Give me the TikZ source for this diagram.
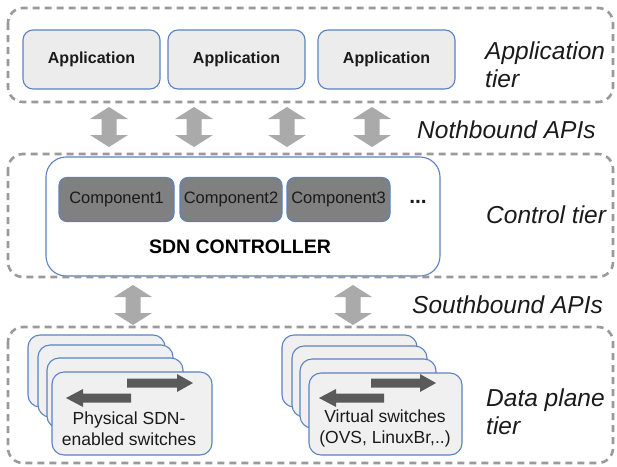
\documentclass[tikz,border=0pt]{standalone}
\usepackage{fontspec}
\setmainfont{Liberation Sans}
\definecolor{tiergray}{HTML}{9A9A9A}
\definecolor{boxblue}{HTML}{5B82C2}
\definecolor{appfill}{HTML}{ECECEC}
\definecolor{compfill}{HTML}{808080}
\definecolor{apigray}{HTML}{AAAAAA}
\definecolor{swarrow}{HTML}{5A5A5A}
\definecolor{swfill}{HTML}{F0F0F0}
\definecolor{txt}{HTML}{1A1A1A}
\tikzset{
  tierbox/.style={draw=tiergray, line width=2.6pt, dash pattern=on 7pt off 5pt, rounded corners=15pt},
  appbox/.style={draw=boxblue, line width=1.1pt, fill=appfill, rounded corners=10pt, inner sep=0pt,
     font=\fontsize{16}{19}\selectfont\bfseries, text=txt},
  compbox/.style={draw=boxblue, line width=1.1pt, fill=compfill, rounded corners=8pt, inner sep=0pt,
     font=\fontsize{16.5}{19}\selectfont, text=txt, minimum height=44pt},
  ctrlbox/.style={draw=boxblue, line width=1.1pt, fill=white, rounded corners=20pt, inner sep=0pt},
  swbox/.style={draw=boxblue, line width=1.1pt, fill=swfill, rounded corners=12pt, inner sep=0pt},
  swtext/.style={font=\fontsize{17.5}{20.5}\selectfont, text=txt, align=center, inner sep=0pt},
  tierlbl/.style={font=\fontsize{24.5}{27.5}\selectfont\itshape, text=txt, align=left, inner sep=0pt},
  apiarrow/.style={fill=apigray},
  innerarrow/.style={fill=swarrow}
}
\newcommand{\vdarrow}[3]{%
  \fill[apiarrow] (#1-19,#2+12) -- (#1,#2) -- (#1+19,#2+12) -- (#1+7.5,#2+12) -- (#1+7.5,#3-12)
    -- (#1+19,#3-12) -- (#1,#3) -- (#1-19,#3-12) -- (#1-7.5,#3-12) -- (#1-7.5,#2+12) -- cycle;}
% right-pointing arrow: shaft start, head base, tip, y
\newcommand{\rarrow}[4]{%
  \fill[innerarrow] (#1,#4-4.5) -- (#2,#4-4.5) -- (#2,#4-9) -- (#3,#4) -- (#2,#4+9) -- (#2,#4+4.5) -- (#1,#4+4.5) -- cycle;}
\begin{document}
\begin{tikzpicture}[x=1pt, y=-1pt]
\useasboundingbox (0,0) rectangle (617,466);

% ---------- Application tier ----------
\node[appbox, minimum width=137pt, minimum height=59pt] (app1) at (91.5,59.5) {Application};
\node[appbox, minimum width=137pt, minimum height=59pt] (app2) at (236.5,59.5) {Application};
\node[appbox, minimum width=137pt, minimum height=59pt] (app3) at (386.5,59.5) {Application};
\draw[tierbox] (8,8) rectangle (613,102);
\node[tierlbl, anchor=west] (applbl) at (485,64.8) {Application\\tier};

% ---------- Northbound arrows ----------
\vdarrow{109}{107}{147}
\vdarrow{194}{107}{147}
\vdarrow{287}{107}{147}
\vdarrow{372}{107}{147}
\node[tierlbl, anchor=base west] (nbl) at (417,138) {Nothbound APIs};

% ---------- Control tier ----------
\node[ctrlbox, minimum width=394pt, minimum height=119pt] (ctrl) at (243,216.5) {};
\node[compbox, minimum width=115pt] (c1) at (116.5,199.5) {Component1};
\node[compbox, minimum width=102pt] (c2) at (231,199.5) {Component2};
\node[compbox, minimum width=103pt] (c3) at (338.5,199.5) {Component3};
\node[font=\fontsize{21}{24}\selectfont\bfseries, text=txt, inner sep=0pt, anchor=base] (dots) at (418,203) {...};
\node[font=\fontsize{19.5}{23}\selectfont\bfseries, text=black, inner sep=0pt] (ctrllbl) at (240,247) {SDN CONTROLLER};
\draw[tierbox] (8,154) rectangle (613,277);
\node[tierlbl, anchor=base west] (ctl) at (486,223) {Control tier};

% ---------- Southbound arrows ----------
\vdarrow{133}{285}{325}
\vdarrow{353}{285}{325}
\node[tierlbl, anchor=base west] (sbl) at (412,313) {Southbound APIs};

% ---------- Data plane tier ----------
% physical switches stack
\node[swbox, minimum width=137pt, minimum height=72pt] (p1) at (96.5,371) {};
\node[swbox, minimum width=135pt, minimum height=72pt] (p2) at (105.5,381) {};
\node[swbox, minimum width=136pt, minimum height=70pt] (p3) at (115,393) {};
\node[swbox, minimum width=160pt, minimum height=83pt] (p4) at (132,413.5) {};
\rarrow{127}{177}{193}{383}
\rarrow{131}{83}{66}{398}
\node[swtext] (ptxt) at (129,428.5) {Physical SDN-\\enabled switches};

% virtual switches stack
\node[swbox, minimum width=135pt, minimum height=72pt] (v1) at (349.5,371) {};
\node[swbox, minimum width=135pt, minimum height=71pt] (v2) at (359.5,381.5) {};
\node[swbox, minimum width=136pt, minimum height=69pt] (v3) at (368,393.5) {};
\node[swbox, minimum width=153pt, minimum height=82pt] (v4) at (385.5,414) {};
\rarrow{371}{420}{436}{383}
\rarrow{384}{336}{319}{398}
\node[swtext] (vtxt) at (385,428.5) {Virtual switches\\(OVS, LinuxBr,..)};

\draw[tierbox] (8,327) rectangle (613,463);
\node[tierlbl, anchor=west] (dpl) at (486,411.5) {Data plane\\tier};
\end{tikzpicture}
\end{document}
